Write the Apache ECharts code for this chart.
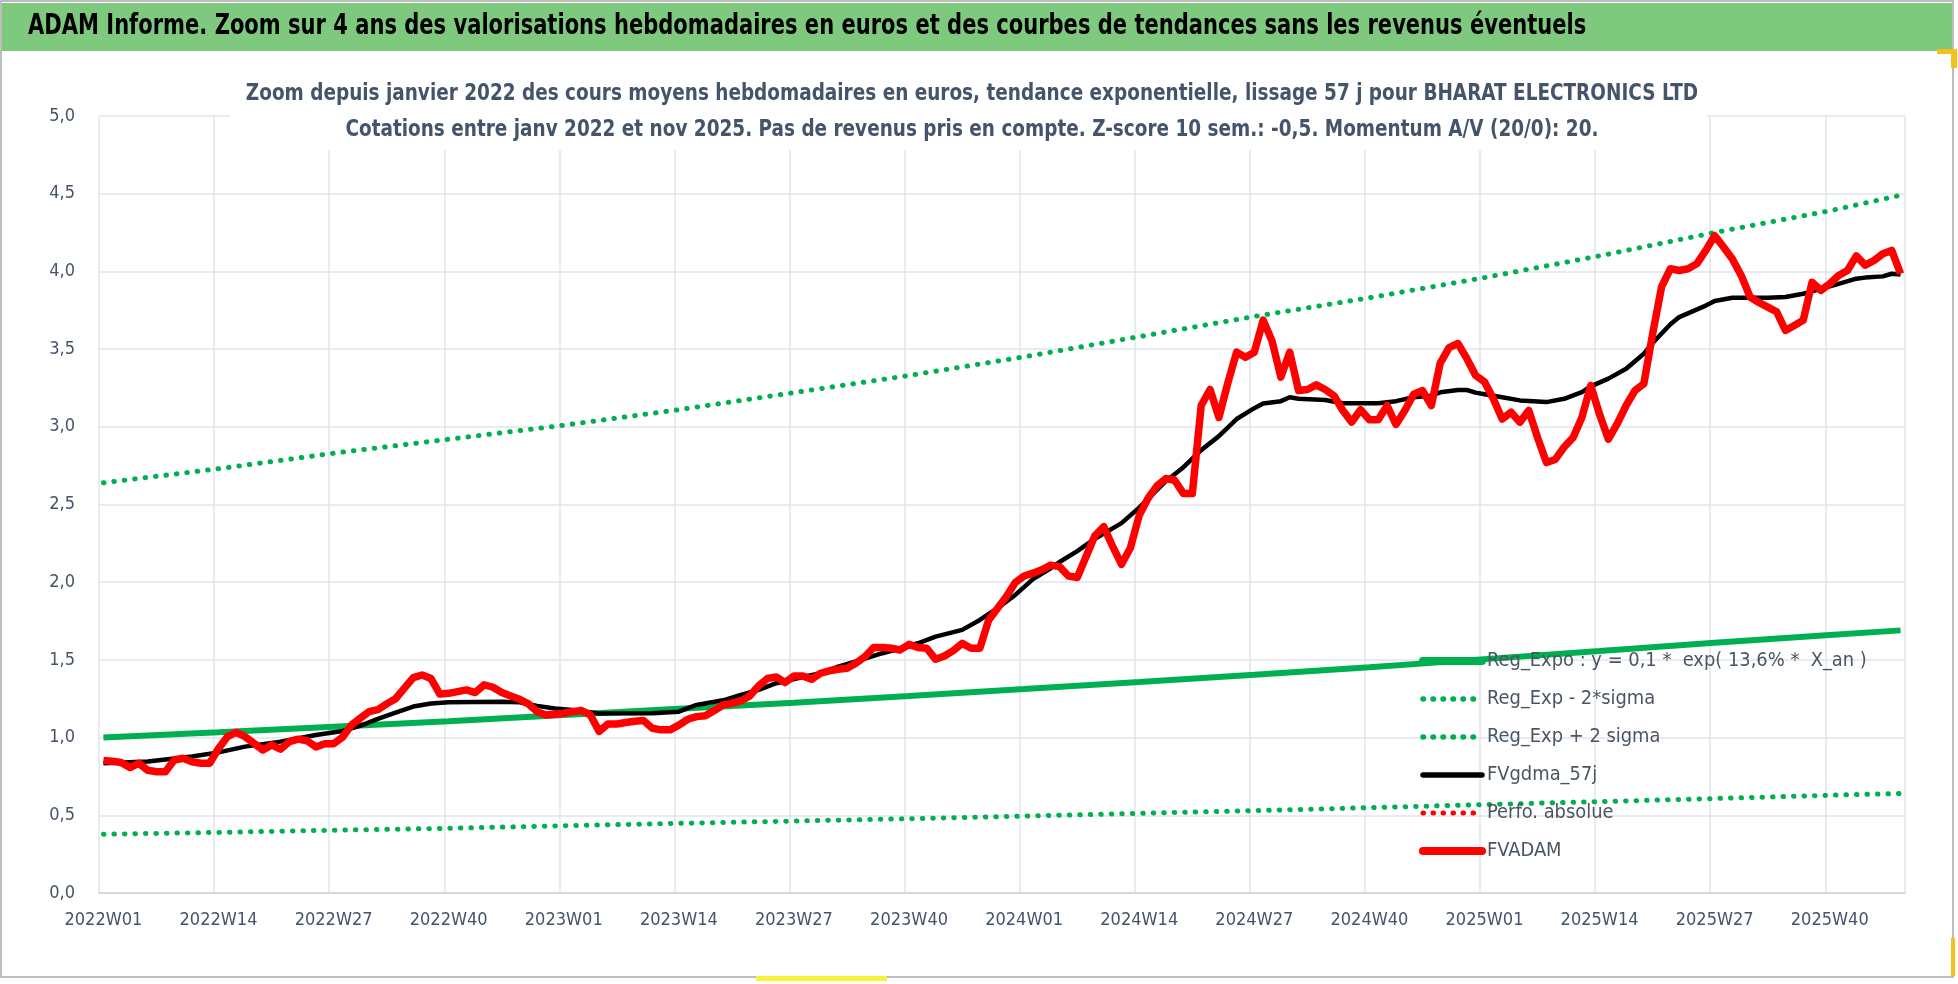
<!DOCTYPE html>
<html><head><meta charset="utf-8">
<script src="https://cdn.jsdelivr.net/npm/echarts@6/dist/echarts.min.js"></script>
<style>html,body{margin:0;padding:0;background:#fff}#c{width:1958px;height:984px}</style>
</head><body><div id="c"></div><script>
// ---------- DATA ----------
const years = [2022, 2023, 2024, 2025];
const weeksPerYear = [52, 52, 52, 48];
const weeks = [];
years.forEach((y, i) => { for (let w = 1; w <= weeksPerYear[i]; w++) weeks.push(y + 'W' + (w < 10 ? '0' : '') + w); });

// FVADAM weekly average price (EUR)
const fvadam = [
 0.852,0.848,0.84,0.807,0.835,0.79,0.78,0.78,0.856,0.867,0.845,0.835,0.835,
 0.93,1.006,1.034,1.006,0.964,0.92,0.953,0.925,0.974,0.99,0.98,0.94,0.96,
 0.96,1.002,1.08,1.124,1.167,1.18,1.217,1.25,1.318,1.386,1.403,1.38,1.28,
 1.285,1.296,1.307,1.29,1.34,1.324,1.29,1.268,1.247,1.217,1.167,1.146,1.15,
 1.157,1.167,1.174,1.146,1.04,1.088,1.088,1.097,1.105,1.11,1.06,1.05,1.05,
 1.08,1.118,1.135,1.14,1.174,1.21,1.22,1.236,1.268,1.333,1.38,1.39,1.354,
 1.397,1.397,1.375,1.414,1.43,1.44,1.446,1.478,1.52,1.58,1.58,1.575,1.564,
 1.60,1.58,1.575,1.504,1.525,1.56,1.607,1.575,1.575,1.757,1.833,1.908,1.998,
 2.04,2.058,2.08,2.11,2.10,2.04,2.03,2.165,2.30,2.357,2.23,2.115,2.22,
 2.43,2.54,2.62,2.667,2.656,2.57,2.57,3.137,3.24,3.06,3.28,3.48,3.447,
 3.48,3.686,3.553,3.32,3.48,3.233,3.24,3.27,3.24,3.20,3.105,3.03,3.11,
 3.045,3.045,3.137,3.015,3.105,3.21,3.233,3.137,3.41,3.51,3.536,3.44,3.33,
 3.29,3.18,3.05,3.094,3.03,3.105,2.93,2.77,2.79,2.87,2.93,3.06,3.266,
 3.08,2.92,3.02,3.137,3.234,3.277,3.60,3.90,4.017,4.006,4.017,4.05,4.135,
 4.23,4.157,4.08,3.974,3.835,3.80,3.77,3.74,3.62,3.652,3.685,3.93,3.878,
 3.92,3.974,4.006,4.10,4.04,4.07,4.114,4.135,3.985
];

// FVgdma_57j (smoothed), read at these week indices
const gdmaIdx = [0,5,10,13,16,20,24,27,29,31,33,35,37,39,45,47,49,51,53,56,62,65,67,70,72,74,76,79,81,83,85,88,90,92,94,97,99,101,103,105,107,108,110,112,115,117,120,122,124,126,128,130,131,133,134,135,138,140,144,146,148,150,151,153,154,155,156,158,160,163,165,167,168,170,172,174,175,177,178,181,182,184,188,190,192,194,196,198,199,201,202,203];
const gdmaVal = [0.835,0.846,0.878,0.905,0.942,0.974,1.017,1.043,1.075,1.12,1.16,1.20,1.22,1.227,1.23,1.227,1.204,1.187,1.178,1.155,1.157,1.167,1.21,1.24,1.275,1.307,1.35,1.39,1.414,1.457,1.49,1.543,1.575,1.607,1.65,1.693,1.757,1.833,1.918,2.02,2.09,2.13,2.2,2.28,2.38,2.48,2.65,2.74,2.85,2.94,3.05,3.12,3.15,3.165,3.19,3.18,3.173,3.152,3.152,3.165,3.19,3.20,3.222,3.237,3.237,3.22,3.21,3.19,3.17,3.159,3.18,3.223,3.26,3.31,3.373,3.47,3.54,3.66,3.706,3.78,3.81,3.83,3.83,3.835,3.856,3.888,3.92,3.953,3.96,3.968,3.985,3.98];

// Trend curves, read at these week indices
const trendIdx = [0,13,26,39,52,65,78,91,104,117,130,143,156,169,182,195,203];
const regExpo  = [1.00,1.034,1.07,1.105,1.145,1.185,1.225,1.268,1.312,1.358,1.405,1.453,1.505,1.557,1.61,1.66,1.69];
const regLow   = [0.378,0.39,0.404,0.416,0.433,0.448,0.463,0.478,0.495,0.513,0.53,0.549,0.569,0.588,0.608,0.629,0.64];
const regHigh  = [2.64,2.73,2.83,2.92,3.01,3.11,3.22,3.33,3.45,3.58,3.71,3.83,3.96,4.10,4.25,4.39,4.49];
const perfoAbs = [];

const names = ['Reg_Expo : y = 0,1 *  exp( 13,6% *  X_an )','Reg_Exp - 2*sigma','Reg_Exp + 2 sigma','FVgdma_57j','Perfo. absolue','FVADAM'];
const titleText = 'ADAM Informe. Zoom sur 4 ans des valorisations hebdomadaires en euros et des courbes de tendances sans les revenus éventuels';
const sub1 = 'Zoom depuis janvier 2022 des cours moyens hebdomadaires en euros, tendance exponentielle, lissage 57 j pour BHARAT ELECTRONICS LTD';
const sub2 = 'Cotations entre janv 2022 et nov 2025. Pas de revenus pris en compte. Z-score 10 sem.: -0,5. Momentum A/V (20/0): 20.';

// ---------- STYLE ----------
const FONT = "'Liberation Sans Narrow','DejaVu Sans Condensed','Noto Sans',sans-serif";
const SLATE = '#44546a';
const GREEN = '#00b050';
const RED = '#ff0000';
function fitSize(text, target, weight) {
  const c = document.createElement('canvas').getContext('2d');
  c.font = weight + ' 100px ' + FONT;
  return 100 * target / c.measureText(text).width;
}
const axisFs = fitSize('2022W01', 78, 'normal');
const legendFs = fitSize(names[0], 380, 'normal');
const titleFs = fitSize(titleText, 1562, 'bold');
const subFs = fitSize(sub1, 1450, 'bold');

const pair = (idx, vals) => idx.map((k, i) => [k, vals[i]]);
const dotted = (color, w) => ({ color: color, width: w, type: [0.5, 10], cap: 'round' });

const legendLine = [
  { width: 8, cap: 'round' },
  { width: 5.5, type: [0.5, 9.5], cap: 'round' },
  { width: 5.5, type: [0.5, 9.5], cap: 'round' },
  { width: 5.5, cap: 'round' },
  { width: 5, type: [0.5, 9.5], cap: 'round' },
  { width: 8, cap: 'round' }
];

const chart = echarts.init(document.getElementById('c'), null, { renderer: 'canvas' });
chart.setOption({
  animation: false,
  backgroundColor: '#ffffff',
  grid: { left: 99, right: 53, top: 116, bottom: 91, containLabel: false, outerBoundsMode: 'none' },
  xAxis: {
    type: 'category', data: weeks, boundaryGap: true,
    axisLine: { show: true, lineStyle: { color: '#d5d9df', width: 2 } },
    axisTick: { show: false },
    axisLabel: { interval: 12, color: SLATE, fontFamily: FONT, fontSize: axisFs, margin: 18 },
    splitLine: { show: true, interval: 12, lineStyle: { color: '#e1e5ea', width: 1.5 } }
  },
  yAxis: {
    type: 'value', min: 0, max: 5, interval: 0.5,
    axisLine: { show: false }, axisTick: { show: false },
    axisLabel: { color: SLATE, fontFamily: FONT, fontSize: axisFs, margin: 24,
      formatter: v => v.toFixed(1).replace('.', ',') },
    splitLine: { show: true, lineStyle: { color: '#e1e5ea', width: 1.5 } }
  },
  legend: {
    orient: 'vertical', left: 1419, top: 649, padding: 0,
    itemWidth: 59, itemHeight: 14, itemGap: 14,
    data: names.map((n, i) => ({ name: n, lineStyle: legendLine[i], itemStyle: { opacity: 0 } })),
    itemStyle: { opacity: 0 },
    textStyle: { color: '#4a5563', fontFamily: FONT, fontSize: legendFs, lineHeight: 24 }
  },
  series: [
    { name: names[0], type: 'line', data: pair(trendIdx, regExpo), symbol: 'none',
      lineStyle: { color: GREEN, width: 6 }, itemStyle: { color: GREEN } },
    { name: names[1], type: 'line', data: pair(trendIdx, regLow), symbol: 'none',
      lineStyle: dotted(GREEN, 5), itemStyle: { color: GREEN } },
    { name: names[2], type: 'line', data: pair(trendIdx, regHigh), symbol: 'none',
      lineStyle: dotted(GREEN, 5), itemStyle: { color: GREEN } },
    { name: names[3], type: 'line', data: pair(gdmaIdx, gdmaVal), symbol: 'none',
      lineStyle: { color: '#000000', width: 4.5 }, itemStyle: { color: '#000000' } },
    { name: names[4], type: 'line', data: perfoAbs, symbol: 'none',
      lineStyle: dotted(RED, 5), itemStyle: { color: RED } },
    { name: names[5], type: 'line', data: fvadam, symbol: 'none',
      lineStyle: { color: RED, width: 7.5, join: 'round' }, itemStyle: { color: RED } }
  ],
  graphic: [
    { type: 'rect', z: 100, silent: true, shape: { x: 1, y: 1, width: 1952, height: 976 }, style: { fill: 'none', stroke: '#a8a8a8', lineWidth: 1.5 } },
    { type: 'rect', z: 100, silent: true, shape: { x: 2, y: 3, width: 1950, height: 48 }, style: { fill: '#7fc97f' } },
    { type: 'text', z: 101, silent: true, x: 28, y: 27, scaleY: 1.22, style: { text: titleText, font: 'bold ' + titleFs.toFixed(1) + 'px ' + FONT, fill: '#000000', verticalAlign: 'middle', align: 'left' } },
    { type: 'rect', z: 100, silent: true, shape: { x: 230, y: 74, width: 1477, height: 76 }, style: { fill: '#ffffff' } },
    { type: 'text', z: 101, silent: true, x: 972, y: 94, scaleY: 1.15, style: { text: sub1, font: 'bold ' + subFs.toFixed(1) + 'px ' + FONT, fill: SLATE, align: 'center', verticalAlign: 'middle' } },
    { type: 'text', z: 101, silent: true, x: 972, y: 130, scaleY: 1.15, style: { text: sub2, font: 'bold ' + subFs.toFixed(1) + 'px ' + FONT, fill: SLATE, align: 'center', verticalAlign: 'middle' } },
    { type: 'rect', z: 100, silent: true, shape: { x: 756, y: 976, width: 131, height: 5 }, style: { fill: '#f7f23a' } },
    { type: 'rect', z: 100, silent: true, shape: { x: 1937, y: 49, width: 20, height: 5 }, style: { fill: '#f2c21b' } },
    { type: 'rect', z: 100, silent: true, shape: { x: 1951, y: 50, width: 6, height: 18 }, style: { fill: '#f2c21b' } },
    { type: 'rect', z: 100, silent: true, shape: { x: 1951, y: 938, width: 4, height: 38 }, style: { fill: '#f2c21b' } }
  ]
});
</script></body></html>
